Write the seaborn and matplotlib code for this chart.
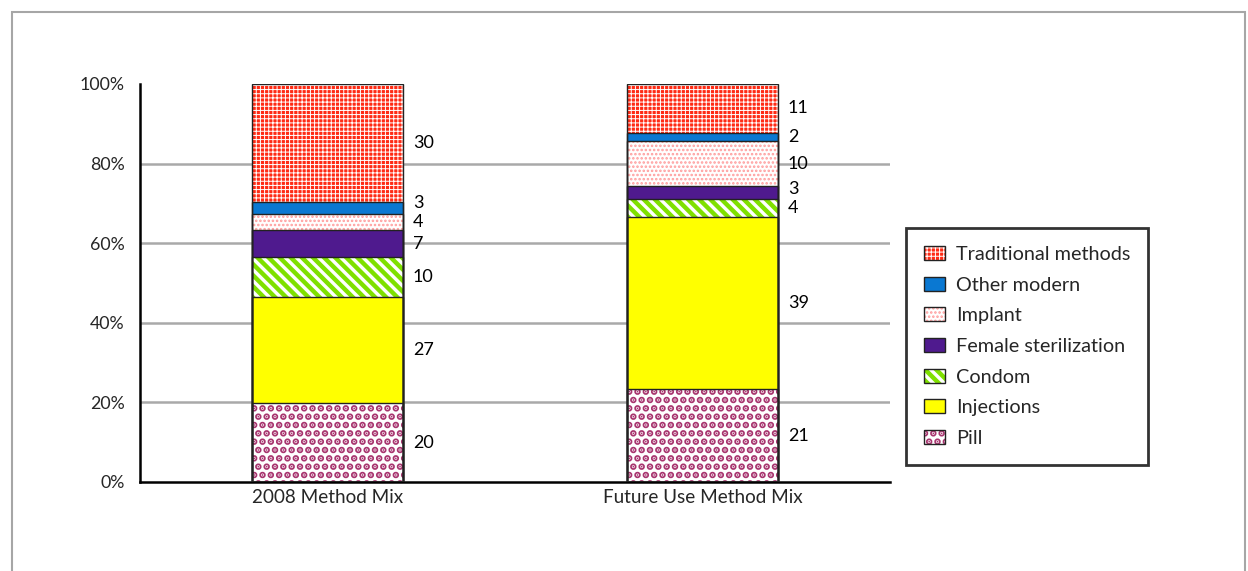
import matplotlib
matplotlib.use("Agg")
import matplotlib.pyplot as plt
from matplotlib.patches import Patch, Rectangle
import numpy as np
import pandas as pd
import seaborn as sns

# Method mix values (per cent, as labelled); stacked bottom to top
mixes = ["2008 Method Mix", "Future Use Method Mix"]
methods = ["Pill", "Injections", "Condom", "Female sterilization",
           "Implant", "Other modern", "Traditional methods"]
mix_2008 = [20, 27, 10, 7, 4, 3, 30]
mix_future = [21, 39, 4, 3, 10, 2, 11]
y_ticks = [0, 0.2, 0.4, 0.6, 0.8, 1.0]
y_tick_labels = ["0%", "20%", "40%", "60%", "80%", "100%"]

# fill colour, hatch colour, hatch pattern, hatch line width per method
styles = {
    "Pill": ("white", "#A8356F", "..", 3.4),
    "Injections": ("#FFFF00", "#FFFF00", None, 1.0),
    "Condom": ("white", "#7FE000", "\\\\\\", 3.2),
    "Female sterilization": ("#4F1A8E", "#4F1A8E", None, 1.0),
    "Implant": ("white", "#FF9C9C", "....", 1.2),
    "Other modern": ("#0A78D2", "#0A78D2", None, 1.0),
    "Traditional methods": ("#FF2A14", "white", "++++", 0.7),
}
width_by_hatch = {s[2]: s[3] for s in styles.values() if s[2]}

sns.set_theme(style="white")
plt.rcParams["font.family"] = ["Lato", "DejaVu Sans"]


def apply_hatch_width(patch, width):
    if hasattr(patch, "set_hatch_linewidth"):
        patch.set_hatch_linewidth(width)
    elif hasattr(patch, "_hatch_linewidth"):
        patch._hatch_linewidth = width


rows = []
for mix, vals in zip(mixes, [mix_2008, mix_future]):
    total = sum(vals)
    cum = 0.0
    for m, v in zip(methods, vals):
        share = v / total
        rows.append(dict(mix=mix, method=m, value=v, share=share,
                         bottom=cum, top=cum + share))
        cum += share
df = pd.DataFrame(rows)

fig = plt.figure(figsize=(12.48, 5.71), dpi=100)
ax_h_px = 398
ax = fig.add_axes([140 / 1248, 89 / 571, 750 / 1248, ax_h_px / 571])

bar_w = 0.405
# draw cumulative tops from the top layer down so lower layers sit in front
for m in reversed(methods):
    face, hcol, hatch, hw = styles[m]
    plt.rcParams["hatch.linewidth"] = hw
    sub = df[df.method == m]
    before = len(ax.patches)
    sns.barplot(data=sub, x="mix", y="top", order=mixes, color=face,
                saturation=1, width=bar_w, ax=ax, errorbar=None,
                edgecolor=hcol, linewidth=0, hatch=hatch)
    for p in ax.patches[before:]:
        p.set_facecolor(face)
        apply_hatch_width(p, hw)

# dark outline around every segment
for p in list(ax.patches):
    ax.add_patch(Rectangle((p.get_x(), p.get_y()), p.get_width(), p.get_height(),
                           fill=False, edgecolor="#222222", linewidth=1.0, zorder=4))

# value labels at the middle of each segment, right of the bar;
# labels of thin segments are nudged apart so they do not collide
min_gap = 19 / ax_h_px
for i, mix in enumerate(mixes):
    sub = df[df.mix == mix]
    prev = -1.0
    for _, r in sub.iterrows():
        y = max((r.bottom + r.top) / 2, prev + min_gap)
        prev = y
        ax.text(i + bar_w / 2 + 0.025, y, f"{r.value}",
                ha="left", va="center", fontsize=13, color="black", zorder=5)

# gridlines
for t in y_ticks[1:-1]:
    ax.axhline(t, color="#A9A9A9", linewidth=1.8, zorder=0)

ax.set_xlim(-0.5, 1.5)
ax.set_ylim(0, 1)
ax.set_yticks(y_ticks)
ax.set_yticklabels(y_tick_labels, fontsize=12.8)
ax.set_xticks([-0.5, 0.5, 1.5])
ax.set_xticklabels([])
ax.set_xticks([0, 1], minor=True)
ax.set_xticklabels(mixes, minor=True, fontsize=13.6)
ax.tick_params(axis="x", which="major", direction="out", length=6, width=1.5, color="black")
ax.tick_params(axis="x", which="minor", length=0, pad=5)
ax.tick_params(axis="y", direction="out", length=6, width=1.5, color="black", pad=5)
ax.set_xlabel("")
ax.set_ylabel("")
for side in ["top", "right"]:
    ax.spines[side].set_visible(False)
for side in ["left", "bottom"]:
    ax.spines[side].set_color("black")
    ax.spines[side].set_linewidth(1.8)
ax.grid(False)

# legend, top entry first
handles = []
for m in reversed(methods):
    face, hcol, hatch, hw = styles[m]
    fill = Patch(facecolor=face, edgecolor=hcol, hatch=hatch, linewidth=0)
    outline = Patch(facecolor="none", edgecolor="#222222", linewidth=1.0)
    handles.append((fill, outline))
leg = fig.legend(handles, list(reversed(methods)), loc="upper left",
                 bbox_to_anchor=(906 / 1248, 1 - 228 / 571),
                 bbox_transform=fig.transFigure, frameon=True, fancybox=False,
                 fontsize=14.3, handlelength=1.05, handleheight=0.7,
                 handletextpad=0.55, labelspacing=0.69, borderpad=0.9,
                 borderaxespad=0)
leg.get_frame().set_edgecolor("black")
leg.get_frame().set_linewidth(2.0)
# legend swatches get the same hatch line widths as the bars
for r in leg.findobj(Rectangle):
    h = r.get_hatch()
    if h in width_by_hatch:
        apply_hatch_width(r, width_by_hatch[h])

# outer border of the chart area
fig.patches.append(Rectangle((12 / 1248, -0.05), 1233 / 1248, 1.05 - 12 / 571,
                             transform=fig.transFigure, fill=False,
                             edgecolor="#A6A6A6", linewidth=1.5))

fig.savefig("out.png", dpi=100)
